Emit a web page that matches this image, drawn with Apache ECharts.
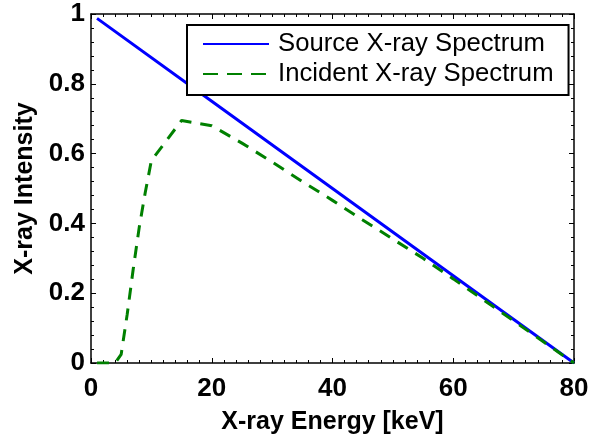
<!DOCTYPE html>
<html>
<head>
<meta charset="utf-8">
<script src="https://cdn.jsdelivr.net/npm/echarts@6/dist/echarts.min.js"></script>
<style>
  html, body { margin: 0; padding: 0; background: #fff; }
  #chart { width: 592px; height: 440px; }
</style>
</head>
<body>
<div id="chart"></div>
<script>
// energies in keV, intensities normalised
var sourceEnergy = [1, 20, 40, 60, 80];
var sourceIntensity = [0.9875, 0.75, 0.5, 0.25, 0];

var incidentEnergy = [1, 2, 3, 4, 5, 6, 7, 8, 9, 10, 15, 20, 25, 30, 35, 40, 45, 50, 55, 60, 65, 70, 75, 80];
var incidentIntensity = [0, 0, 0, 0, 0.025, 0.14, 0.27, 0.39, 0.49, 0.58, 0.695, 0.68, 0.63, 0.576, 0.52, 0.466, 0.41, 0.355, 0.3, 0.241, 0.181, 0.121, 0.06, 0];

var seriesNames = ['Source X-ray Spectrum', 'Incident X-ray Spectrum'];

function pairs(xs, ys) {
  var out = [];
  for (var i = 0; i < xs.length; i++) out.push([xs[i], ys[i]]);
  return out;
}

var font = 'Liberation Sans, Arial, Helvetica, sans-serif';

var axisBase = {
  axisLine: { show: true, onZero: false, lineStyle: { color: '#000', width: 1.5 } },
  axisTick: { show: true, inside: true, length: 5, lineStyle: { color: '#000', width: 1 } },
  minorTick: { show: true, length: 3, lineStyle: { color: '#000', width: 1 } },
  splitLine: { show: false }
};

function xAxisCfg(pos, labels) {
  return Object.assign({}, axisBase, {
    type: 'value', position: pos, min: 0, max: 80, interval: 20,
    minorTick: Object.assign({}, axisBase.minorTick, { splitNumber: 10 }),
    axisLabel: {
      show: labels, color: '#000', fontFamily: font, fontWeight: 'bold', fontSize: 26, margin: 13
    },
    name: labels ? 'X-ray Energy [keV]' : '',
    nameLocation: 'middle', nameGap: 47,
    nameTextStyle: { color: '#000', fontFamily: font, fontWeight: 'bold', fontSize: 25 }
  });
}

function yAxisCfg(pos, labels) {
  return Object.assign({}, axisBase, {
    type: 'value', position: pos, min: 0, max: 1, interval: 0.2,
    minorTick: Object.assign({}, axisBase.minorTick, { splitNumber: 5 }),
    axisLabel: {
      show: labels, color: '#000', fontFamily: font, fontWeight: 'bold', fontSize: 26, margin: 6,
      formatter: function (v) { return String(Math.round(v * 10) / 10); }
    },
    name: labels ? 'X-ray Intensity' : '',
    nameLocation: 'middle', nameGap: 49,
    nameTextStyle: { color: '#000', fontFamily: font, fontWeight: 'bold', fontSize: 25 }
  });
}

var chart = echarts.init(document.getElementById('chart'), null, { renderer: 'canvas' });

chart.setOption({
  backgroundColor: '#fff',
  animation: false,
  grid: { left: 91, right: 18, top: 14, bottom: 66 },
  legend: {
    left: 187, top: 25,
    orient: 'vertical',
    data: [
      { name: seriesNames[0] },
      { name: seriesNames[1], lineStyle: { type: [15, 9] } }
    ],
    itemWidth: 66, itemHeight: 14, itemGap: 4,
    padding: [6, 15, 8, 15],
    borderColor: '#000', borderWidth: 2,
    backgroundColor: '#fff',
    itemStyle: { opacity: 0 },
    textStyle: { color: '#000', fontFamily: font, fontSize: 25.7, lineHeight: 25, padding: [0, 0, 0, 4] }
  },
  xAxis: [xAxisCfg('bottom', true), xAxisCfg('top', false)],
  yAxis: [yAxisCfg('left', true), yAxisCfg('right', false)],
  series: [
    {
      name: seriesNames[0], type: 'line', symbol: 'none',
      data: pairs(sourceEnergy, sourceIntensity),
      lineStyle: { color: '#0000ff', width: 3 },
      itemStyle: { color: '#0000ff' }
    },
    {
      name: seriesNames[1], type: 'line', symbol: 'none',
      data: pairs(incidentEnergy, incidentIntensity),
      lineStyle: { color: '#008000', width: 3, type: [12, 9] },
      itemStyle: { color: '#008000' }
    }
  ]
});
</script>
</body>
</html>
